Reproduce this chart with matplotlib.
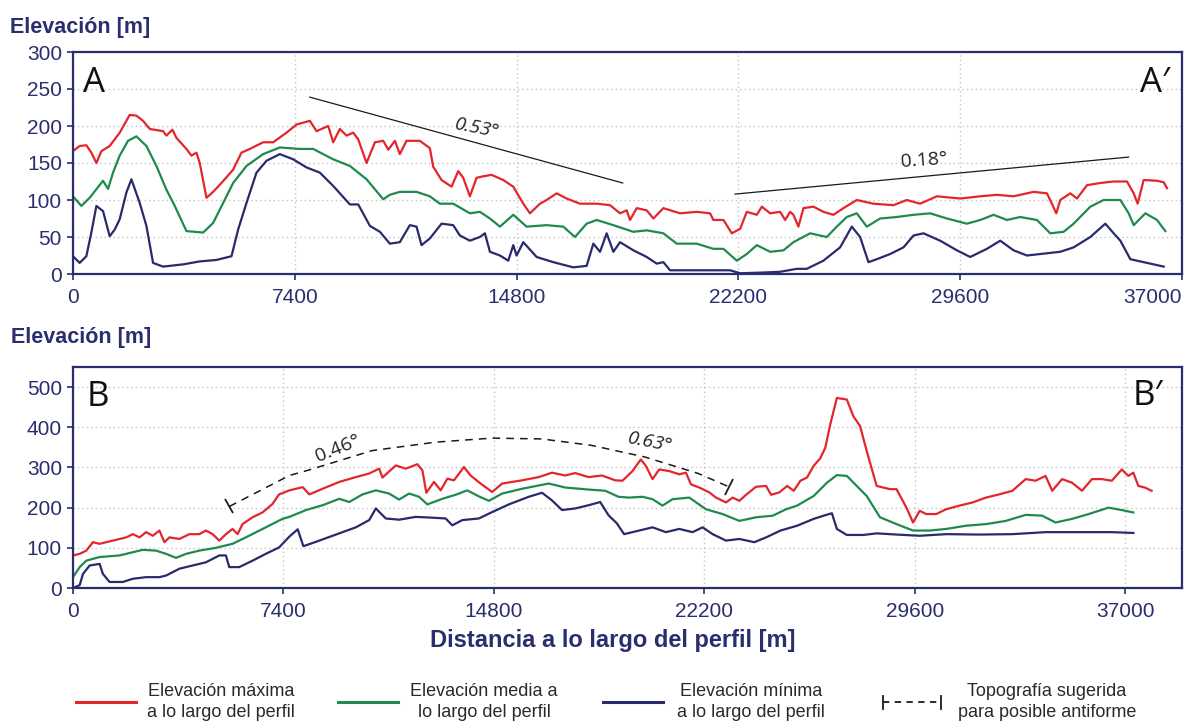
import matplotlib
matplotlib.use("Agg")
import matplotlib.pyplot as plt
from matplotlib.lines import Line2D
from matplotlib.markers import MarkerStyle
from matplotlib.transforms import Affine2D

# ---------------- Profile A-A' (distance [m], elevation [m]) ----------------
a_max_x = [0, 222, 445, 612, 780, 947, 1224, 1558, 1892, 2115, 2337, 2560, 3005, 3116, 3317, 3450,
           3784, 3951, 4118, 4229, 4452, 4675, 4953, 5342, 5620, 5899, 6344, 6678, 7123, 7457, 7902,
           8125, 8515, 8681, 8904, 9127, 9349, 9516, 9794, 10073, 10351, 10518, 10740, 10904, 11127,
           11572, 11906, 12017, 12296, 12630, 12852, 13019, 13242, 13464, 13687, 13965, 14355, 14689,
           15023, 15245, 15579, 15802, 16136, 16470, 16915, 17471, 17917, 18250, 18473, 18584, 18807,
           19141, 19364, 19697, 20254, 20810, 21255, 21367, 21701, 21979, 22258, 22480, 22814, 22981,
           23259, 23593, 23760, 23927, 24036, 24203, 24370, 24703, 25037, 25371, 25705, 26150, 26706,
           27374, 27819, 28264, 28821, 29600, 30268, 30824, 31381, 32048, 32494, 32661, 32805, 32939,
           33273, 33496, 33830, 34275, 34720, 35165, 35388, 35521, 35721, 36166, 36389, 36500]
a_max_y = [166, 173, 174, 164, 150, 166, 173, 191, 215, 214, 207, 196, 193, 187, 195, 184,
           169, 160, 164, 150, 103, 111, 123, 141, 164, 169, 178, 178, 191, 202, 207,
           193, 200, 178, 196, 187, 191, 182, 150, 178, 180, 168, 180, 162, 180,
           180, 170, 145, 127, 118, 139, 130, 105, 130, 132, 134, 127, 118,
           95, 82, 95, 100, 109, 102, 95, 95, 93, 82, 86, 73, 89,
           86, 75, 89, 82, 84, 82, 73, 73, 55, 61, 84, 80, 91,
           82, 84, 73, 84, 80, 64, 89, 91, 84, 80, 89, 100, 95,
           93, 100, 95, 105, 102, 105, 107, 105, 111, 109, 95, 82, 100,
           109, 102, 120, 123, 125, 125, 109, 95, 127, 126, 124, 116]

a_mean_x = [0, 278, 556, 1002, 1169, 1336, 1558, 1836, 2115, 2449, 2783, 3116, 3395, 3784, 4341,
            4675, 5009, 5342, 5788, 6344, 6901, 7568, 8014, 8681, 9238, 9794, 10351, 10571, 10904,
            11461, 11906, 12240, 12685, 13242, 13575, 13910, 14244, 14689, 15134, 15802, 16358,
            16748, 17137, 17471, 18028, 18696, 19141, 19697, 20142, 20810, 21367, 21701, 22146,
            22480, 22814, 23259, 23704, 24036, 24593, 25149, 25483, 25817, 26150, 26484, 26929,
            27485, 28042, 28598, 29155, 29823, 30268, 30713, 31158, 31604, 32160, 32605, 33050,
            33384, 33941, 34386, 34943, 35221, 35388, 35777, 36166, 36444]
a_mean_y = [105, 92, 103, 126, 115, 137, 160, 180, 186, 173, 146, 114, 92, 58, 56,
            69, 96, 123, 146, 162, 171, 169, 169, 155, 146, 128, 101, 107, 111,
            111, 105, 95, 95, 82, 84, 75, 64, 80, 64, 66, 64,
            50, 68, 73, 66, 57, 59, 55, 41, 41, 34, 34, 18,
            27, 39, 30, 32, 43, 55, 50, 64, 77, 82, 64, 75,
            77, 80, 82, 75, 68, 73, 80, 73, 77, 73, 55, 57,
            68, 91, 100, 100, 82, 66, 82, 73, 58]

a_min_x = [0, 222, 445, 612, 780, 1002, 1224, 1391, 1558, 1781, 1948, 2226, 2449, 2671, 3005, 3673,
           4229, 4786, 5287, 5509, 5788, 6122, 6456, 6901, 7346, 7791, 8236, 8681, 9238, 9516, 9906,
           10240, 10571, 10904, 11238, 11461, 11628, 11906, 12296, 12685, 12908, 13242, 13575, 13742,
           13910, 14244, 14522, 14689, 14800, 15023, 15468, 16025, 16692, 17137, 17360, 17583, 17805,
           18028, 18250, 18696, 19141, 19475, 19697, 19920, 20810, 21924, 22258, 23037, 23590, 24150,
           24481, 25037, 25594, 25983, 26261, 26539, 26818, 27263, 27708, 28042, 28376, 28932, 29489,
           29934, 30490, 30936, 31381, 31826, 32271, 32939, 33384, 33941, 34442, 34720, 34943, 35277,
           35721, 36389]
a_min_y = [24, 15, 24, 56, 92, 85, 51, 60, 74, 110, 128, 96, 65, 15, 10, 13,
           17, 19, 24, 60, 96, 137, 153, 162, 155, 144, 137, 119, 94, 94, 65,
           57, 41, 43, 66, 64, 39, 48, 68, 66, 52, 45, 50, 55,
           30, 25, 18, 39, 25, 43, 23, 16, 9, 11, 41, 30, 55,
           30, 43, 32, 23, 14, 16, 5, 5, 5, 1, 2, 3, 7,
           7, 18, 36, 64, 50, 16, 20, 27, 36, 52, 55, 45, 32,
           23, 34, 45, 32, 25, 27, 30, 36, 50, 68, 55, 45, 20,
           16, 10]

# Regional slope guides on profile A-A'
a_slope1_x = [7900, 18340]
a_slope1_y = [239, 123]
a_slope2_x = [22090, 35220]
a_slope2_y = [108, 158]

# ---------------- Profile B-B' (distance [m], elevation [m]) ----------------
b_max_x = [0, 234, 468, 701, 935, 1169, 1403, 1637, 1870, 2104, 2338, 2572, 2806, 3039, 3215, 3390,
           3741, 4092, 4442, 4676, 4910, 5144, 5377, 5611, 5787, 5962, 6313, 6663, 7014, 7248, 7610,
           8078, 8311, 8779, 9364, 9948, 10416, 10766, 10883, 11351, 11702, 12110, 12286, 12426,
           12695, 12929, 13163, 13397, 13747, 13981, 14332, 14741, 15092, 15793, 16378, 16845,
           17313, 17663, 18131, 18599, 19066, 19322, 19675, 19968, 20145, 20380, 20615, 20967,
           21320, 21555, 21731, 22025, 22376, 22611, 22964, 23199, 23434, 23669, 24021, 24374,
           24550, 24843, 25115, 25348, 25581, 25814, 26047, 26280, 26455, 26630, 26863, 27213,
           27446, 27679, 27912, 28262, 28726, 28960, 29309, 29542, 29775, 30008, 30357, 30707,
           31173, 31639, 32105, 32571, 33037, 33503, 33852, 34202, 34435, 34784, 35134, 35483,
           35833, 36182, 36532, 36881, 37114, 37289, 37464, 37697, 37930]
b_max_y = [81, 85, 93, 114, 110, 114, 118, 122, 126, 134, 126, 139, 130, 143, 114, 126,
           122, 134, 134, 143, 134, 118, 134, 147, 134, 159, 176, 188, 209, 233, 243,
           251, 233, 247, 264, 276, 285, 297, 275, 305, 297, 308, 293, 237,
           264, 243, 272, 268, 301, 280, 260, 239, 260, 268, 276, 287,
           280, 286, 276, 280, 268, 267, 291, 320, 304, 271, 295, 291,
           283, 287, 258, 250, 238, 225, 213, 225, 217, 232, 252, 254,
           232, 238, 254, 242, 267, 275, 304, 323, 349, 407, 473, 469,
           427, 403, 341, 254, 246, 246, 200, 163, 192, 184, 184, 196,
           205, 213, 225, 233, 242, 271, 267, 279, 242, 271, 262, 242,
           271, 271, 267, 295, 279, 287, 254, 250, 242]

b_mean_x = [0, 234, 468, 935, 1637, 2104, 2455, 2923, 3274, 3624, 3975, 4442, 5027, 5611, 6079, 6780,
            7365, 7610, 8195, 8779, 9364, 9714, 10182, 10650, 11117, 11468, 11819, 12170, 12461,
            12988, 13455, 13864, 14273, 14624, 15092, 15793, 16728, 17313, 18131, 18716, 19183,
            19557, 20027, 20380, 20732, 21084, 21672, 22259, 22846, 23434, 24021, 24608, 25078,
            25464, 26047, 26513, 26863, 27213, 27562, 27912, 28378, 28960, 29542, 30124, 30707,
            31406, 32105, 32804, 33503, 34085, 34551, 35134, 35716, 36415, 36881, 37289]
b_mean_y = [27, 52, 68, 77, 81, 89, 95, 93, 85, 75, 85, 93, 100, 110, 126, 151,
            172, 177, 194, 206, 222, 214, 233, 243, 235, 220, 235, 227, 208,
            222, 232, 243, 228, 217, 235, 247, 260, 250, 245, 242, 227,
            225, 227, 221, 205, 221, 225, 196, 184, 167, 176, 180, 196,
            205, 229, 262, 281, 279, 254, 229, 176, 159, 143, 143, 147,
            155, 159, 167, 182, 180, 163, 172, 184, 200, 194, 188]

b_min_x = [0, 234, 351, 585, 935, 1052, 1286, 1754, 2104, 2572, 3039, 3274, 3741, 4208, 4676, 5144,
           5377, 5494, 5845, 6313, 6780, 7248, 7610, 7902, 8101, 8545, 9364, 9948, 10416, 10650,
           11000, 11468, 12052, 12637, 13105, 13338, 13689, 14273, 14741, 15325, 16027, 16495,
           16845, 17196, 17663, 18131, 18540, 18833, 19125, 19381, 19910, 20380, 20850, 21320,
           21789, 22141, 22494, 22964, 23434, 23962, 24374, 24882, 25464, 26047, 26397, 26688,
           26863, 27213, 27795, 28262, 28960, 29775, 30707, 31872, 33037, 34202, 35367, 36532, 37289]
b_min_y = [0, 7, 35, 56, 60, 35, 15, 15, 23, 27, 27, 31, 48, 56, 64, 81,
           81, 52, 52, 68, 85, 101, 128, 146, 104, 115, 136, 151, 169, 198,
           173, 170, 177, 175, 173, 156, 169, 173, 189, 208, 227, 237,
           218, 194, 198, 206, 214, 181, 161, 134, 143, 151, 139, 147,
           139, 151, 134, 118, 122, 114, 126, 143, 155, 172, 180, 186,
           147, 132, 132, 136, 133, 130, 134, 133, 134, 139, 139, 139, 137]

# Suggested topography of a possible antiform on B-B'
b_arc_x = [5500, 7610, 8311, 10520, 12755, 14730, 16480, 18230, 20110, 21990, 23060]
b_arc_y = [203, 280, 294, 342, 363, 373, 371, 355, 326, 285, 252]

# Tick values
a_yticks = [0, 50, 100, 150, 200, 250, 300]
b_yticks = [0, 100, 200, 300, 400, 500]
x_ticks = [0, 7400, 14800, 22200, 29600, 37000]

# ---------------- Styling ----------------
NAVY = "#2b2e6e"
RED = "#e2262b"
GREEN = "#1e8a4d"
BLUE = "#282a6c"
GRID = "#c4c4c4"
SANS = ["Liberation Sans", "DejaVu Sans"]
LETTER = ["Open Sans", "DejaVu Sans"]
NARROW = ["Liberation Sans Narrow", "Liberation Sans", "DejaVu Sans"]

plt.rcParams["font.family"] = SANS

W, H = 1186, 721
fig = plt.figure(figsize=(W / 100, H / 100), dpi=100)


def fx(px):
    return px / W


def fy(py):
    return 1 - py / H


ax_a = fig.add_axes([fx(73), fy(274), fx(1182) - fx(73), fy(52) - fy(274)])
ax_b = fig.add_axes([fx(73), fy(588), fx(1182) - fx(73), fy(367) - fy(588)])


def style_axes(ax, ymax, yticks, xmax):
    ax.set_xlim(0, xmax)
    ax.set_ylim(0, ymax)
    ax.set_xticks(x_ticks)
    ax.set_yticks(yticks)
    ax.grid(True, color=GRID, linestyle=(0, (1, 2.2)), linewidth=1.0)
    ax.set_axisbelow(True)
    for s in ax.spines.values():
        s.set_color(NAVY)
        s.set_linewidth(1.6)
    ax.tick_params(axis="both", colors=NAVY, labelsize=15, length=4, width=1.2,
                   direction="out", pad=4)
    ax.tick_params(axis="x", pad=6)
    for lbl in ax.get_xticklabels() + ax.get_yticklabels():
        lbl.set_color(NAVY)


lw = 1.6
# Profile A
style_axes(ax_a, 300, a_yticks, 37000)
ax_a.plot(a_max_x, a_max_y, color=RED, lw=lw)
ax_a.plot(a_mean_x, a_mean_y, color=GREEN, lw=lw)
ax_a.plot(a_min_x, a_min_y, color=BLUE, lw=lw)
ax_a.plot(a_slope1_x, a_slope1_y, color="#1a1a1a", lw=0.9)
ax_a.plot(a_slope2_x, a_slope2_y, color="#1a1a1a", lw=0.9)
ax_a.text(13470, 197, "0.53°", fontsize=14, family=LETTER, style="italic",
          rotation=-11, ha="center", va="center", color="#222222")
ax_a.text(28380, 154, "0.18°", fontsize=14, family=LETTER,
          rotation=4, ha="center", va="center", color="#222222")
ax_a.text(0.009, 0.82, "A", transform=ax_a.transAxes, fontsize=25, family=LETTER,
          ha="left", va="baseline", color="#111111")
ax_a.text(0.989, 0.82, "A\u2032", transform=ax_a.transAxes, fontsize=25, family=LETTER,
          ha="right", va="baseline", color="#111111")
ax_a.get_xticklabels()[-1].set_horizontalalignment("right")

# Profile B
style_axes(ax_b, 550, b_yticks, 39000)
ax_b.plot(b_max_x, b_max_y, color=RED, lw=lw)
ax_b.plot(b_mean_x, b_mean_y, color=GREEN, lw=lw)
ax_b.plot(b_min_x, b_min_y, color=BLUE, lw=lw)
ax_b.plot(b_arc_x, b_arc_y, color="#1a1a1a", lw=1.1, linestyle=(0, (5, 4)))
# End bars of the suggested topography, perpendicular to the curve
for (x0, y0), ang in (((b_arc_x[0], b_arc_y[0]), 28), ((b_arc_x[-1], b_arc_y[-1]), -25)):
    ms = MarkerStyle("|", transform=Affine2D().rotate_deg(ang))
    ax_b.plot([x0], [y0], marker=ms, markersize=12, markeredgewidth=1.3,
              color="#1a1a1a", linestyle="none")
ax_b.text(9330, 346, "0.46°", fontsize=14, family=LETTER,
          rotation=22, ha="center", va="center", color="#222222")
ax_b.text(20300, 362, "0.63°", fontsize=14, family=LETTER, style="italic",
          rotation=-11, ha="center", va="center", color="#222222")
ax_b.text(0.0126, 0.8235, "B", transform=ax_b.transAxes, fontsize=25, family=LETTER,
          ha="left", va="baseline", color="#111111")
ax_b.text(0.983, 0.828, "B\u2032", transform=ax_b.transAxes, fontsize=25, family=LETTER,
          ha="right", va="baseline", color="#111111")

# Axis titles
fig.text(fx(10), fy(27), "Elevación [m]", fontsize=15.5, fontweight="bold",
         color=NAVY, ha="left", va="center")
fig.text(fx(11), fy(338), "Elevación [m]", fontsize=15.5, fontweight="bold",
         color=NAVY, ha="left", va="center")
fig.text(fx(613), fy(640), "Distancia a lo largo del perfil [m]", fontsize=17,
         fontweight="bold", color=NAVY, ha="center", va="center")

# Legend row
legend_y = fy(702)
entries = [
    ((76, 136), RED, 221, "Elevación máxima\na lo largo del perfil"),
    ((338, 398), GREEN, 484, "Elevación media a\nlo largo del perfil"),
    ((603, 663), BLUE, 751, "Elevación mínima\na lo largo del perfil"),
]
for (x0, x1), col, tx, label in entries:
    fig.add_artist(Line2D([fx(x0), fx(x1)], [legend_y, legend_y], color=col, lw=2.2))
    fig.text(fx(tx), legend_y, label, fontsize=13, family=NARROW, color="#2a2a2a",
             ha="center", va="center", linespacing=1.3)

fig.add_artist(Line2D([fx(883), fx(941)], [legend_y, legend_y], color="#1a1a1a",
                      lw=1.3, linestyle=(0, (3.5, 3))))
for xb in (883, 941):
    fig.add_artist(Line2D([fx(xb), fx(xb)], [fy(696), fy(709)], color="#1a1a1a", lw=1.3))
fig.text(fx(1047), legend_y, "Topografía sugerida\npara posible antiforme", fontsize=13,
         family=NARROW, color="#2a2a2a", ha="center", va="center", linespacing=1.3)

fig.savefig("out.png", dpi=100, facecolor="white")
